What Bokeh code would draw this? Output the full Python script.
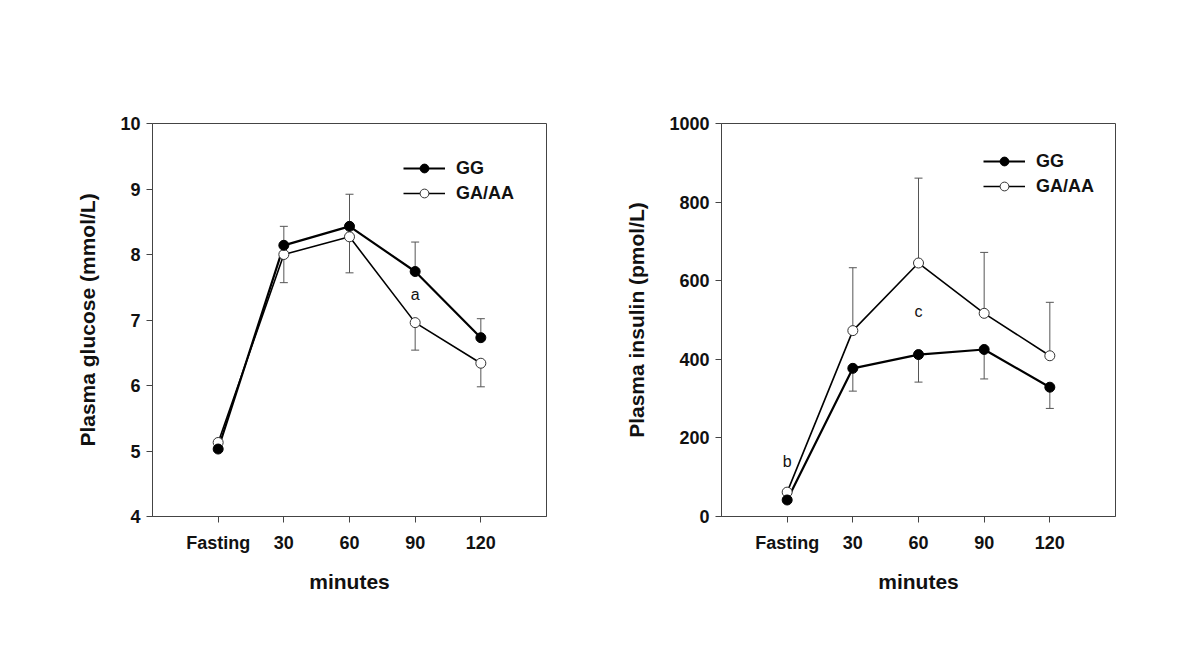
from bokeh.plotting import figure
from bokeh.layouts import row
from bokeh.models import (ColumnDataSource, Whisker, TeeHead, FixedTicker,
                          Legend, LegendItem)
from bokeh.core.properties import value
from bokeh.embed import file_html
from bokeh.resources import INLINE

categories = ["Fasting", "30", "60", "90", "120"]

# Plasma glucose (mmol/L)
glu_gg = [5.03, 8.14, 8.43, 7.74, 6.73]
glu_gg_err = [0.0, 0.29, 0.49, 0.45, 0.29]      # shown upward
glu_ga = [5.13, 8.00, 8.27, 6.96, 6.34]
glu_ga_err = [0.0, 0.43, 0.55, 0.42, 0.36]      # shown downward
glu_ann_x = [3]
glu_ann_y = [7.39]
glu_ann_t = ["a"]

# Plasma insulin (pmol/L)
ins_gg = [42, 377, 412, 425, 329]
ins_gg_err = [0, 58, 70, 75, 54]                 # shown downward
ins_ga = [62, 473, 645, 517, 409]
ins_ga_err = [0, 160, 216, 155, 136]             # shown upward
ins_ann_x = [0, 2]
ins_ann_y = [140, 521]
ins_ann_t = ["b", "c"]

FONT = "Liberation Sans"
AX = "#444444"
ERR = "#555555"


def make_plot(width, yr, yticks, ylabel, gg, gg_err, gg_up, ga, ga_err, ga_up,
              ann_x, ann_y, ann_t, borders, leg_loc):
    bl, br, bt, bb = borders
    p = figure(width=width, height=643, x_range=(-1, 5), y_range=yr,
               output_backend="svg", toolbar_location=None,
               min_border_left=bl, min_border_right=br,
               min_border_top=bt, min_border_bottom=bb)
    p.grid.visible = False
    p.outline_line_color = AX
    p.outline_line_width = 1
    p.background_fill_color = "white"
    p.border_fill_color = "white"

    xs = list(range(len(categories)))
    p.xaxis.ticker = FixedTicker(ticks=xs)
    p.xaxis.major_label_overrides = {i: c for i, c in zip(xs, categories)}
    p.yaxis.ticker = FixedTicker(ticks=yticks)
    for ax in (p.xaxis[0], p.yaxis[0]):
        ax.axis_line_color = AX
        ax.major_tick_line_color = AX
        ax.major_tick_out = 6
        ax.major_tick_in = 0
        ax.minor_tick_line_color = None
        ax.major_label_text_font = FONT
        ax.major_label_text_font_style = "bold"
        ax.major_label_text_font_size = "18px"
        ax.major_label_text_color = "#111111"
        ax.axis_label_text_font = FONT
        ax.axis_label_text_font_style = "bold"
        ax.axis_label_text_color = "#111111"
    p.xaxis.axis_label = "minutes"
    p.xaxis.axis_label_text_font_size = "21px"
    p.xaxis.major_label_standoff = 10
    p.xaxis.axis_label_standoff = 14
    p.yaxis.axis_label = ylabel
    p.yaxis.axis_label_text_font_size = "21px"
    p.yaxis.major_label_standoff = 6
    p.yaxis.axis_label_standoff = 18

    # error bars
    def add_err(vals, errs, up):
        bx, lo, hi = [], [], []
        for x, v, e in zip(xs, vals, errs):
            if e > 0:
                bx.append(x)
                if up:
                    lo.append(v); hi.append(v + e)
                else:
                    lo.append(v - e); hi.append(v)
        src = ColumnDataSource(dict(x=bx, lo=lo, hi=hi))
        head = TeeHead(size=8, line_color=ERR, line_width=1)
        w = Whisker(source=src, base="x", lower="lo", upper="hi",
                    line_color=ERR, line_width=1,
                    upper_head=head if up else None,
                    lower_head=None if up else head)
        p.add_layout(w)

    add_err(gg, gg_err, gg_up)
    add_err(ga, ga_err, ga_up)

    l1 = p.line(xs, gg, line_color="black", line_width=2.2)
    l2 = p.line(xs, ga, line_color="black", line_width=1.6)
    s2 = p.scatter(xs, ga, size=10, fill_color="white", line_color="#333333",
                   line_width=1)
    s1 = p.scatter(xs, gg, size=10, fill_color="black", line_color="black")

    p.text(ann_x, ann_y, text=ann_t, text_font=value(FONT),
           text_font_size="16px", text_align="center",
           text_baseline="middle", text_color="#111111")

    leg = Legend(items=[LegendItem(label="GG", renderers=[l1, s1]),
                        LegendItem(label="GA/AA", renderers=[l2, s2])],
                 location=leg_loc, glyph_width=42, glyph_height=22,
                 label_height=22, spacing=3, label_standoff=11,
                 padding=0, margin=0, border_line_color=None,
                 background_fill_alpha=0,
                 label_text_font=FONT, label_text_font_style="bold",
                 label_text_font_size="18px", label_text_color="#111111")
    p.add_layout(leg, "center")
    return p


p1 = make_plot(600, (4, 10), [4, 5, 6, 7, 8, 9, 10], "Plasma glucose (mmol/L)",
               glu_gg, glu_gg_err, True, glu_ga, glu_ga_err, False,
               glu_ann_x, glu_ann_y, glu_ann_t,
               (152, 54, 123, 125), (251, 312))
p2 = make_plot(598, (0, 1000), [0, 200, 400, 600, 800, 1000],
               "Plasma insulin (pmol/L)",
               ins_gg, ins_gg_err, False, ins_ga, ins_ga_err, True,
               ins_ann_x, ins_ann_y, ins_ann_t,
               (121, 83, 121, 127), (262, 319))

layout = row(p1, p2, spacing=0)
open("out.html", "w").write(file_html(layout, INLINE))
